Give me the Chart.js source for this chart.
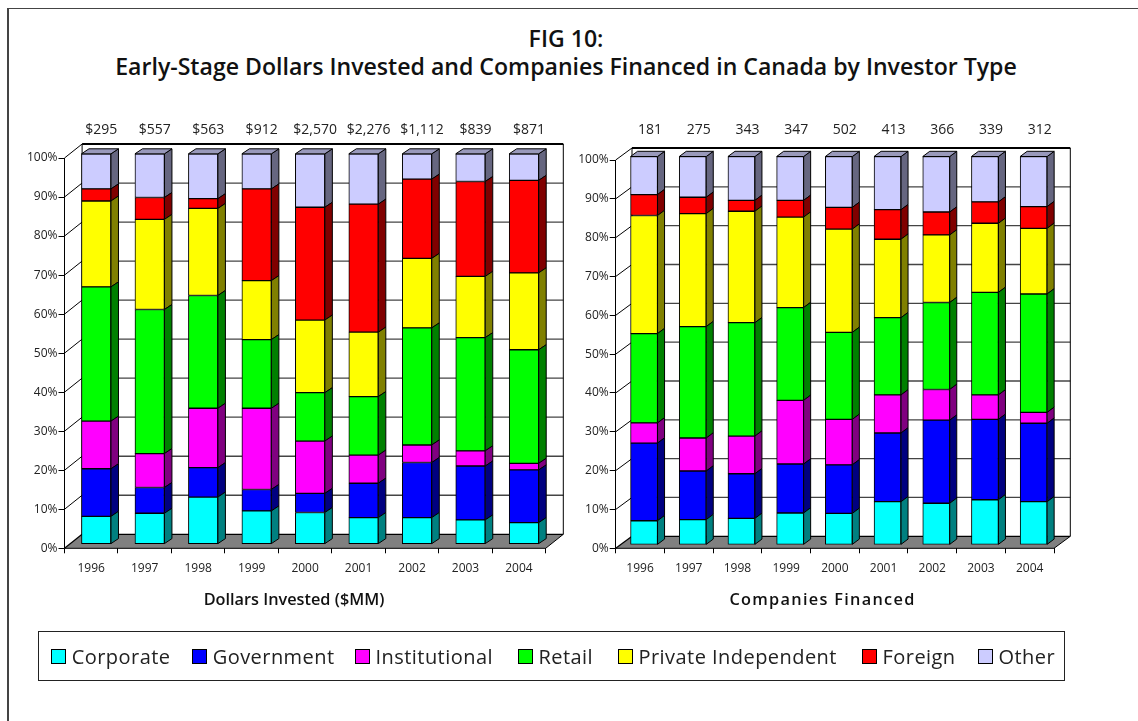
<!DOCTYPE html>
<html><head><meta charset="utf-8">
<script src="https://cdn.jsdelivr.net/npm/chart.js@4"></script>
<style>
html,body{margin:0;padding:0;background:#fff;width:1138px;height:721px;overflow:hidden;font-family:"Open Sans",sans-serif;color:#222}
#frameL{position:absolute;left:7px;top:7.5px;width:1.5px;height:714px;background:#444}
#frameT{position:absolute;left:7px;top:7.5px;width:1131px;height:1.3px;background:#444}
#title{position:absolute;left:0;top:24px;width:1132px;text-align:center;font-weight:600;font-size:23.1px;line-height:28px;color:#111}
canvas{position:absolute;top:0}
#c1{left:0}#c2{left:570px}
#legend{position:absolute;left:37.5px;top:631px;width:1027px;height:50px;box-sizing:border-box;border:1.3px solid #222;font-size:20px;letter-spacing:.45px;color:#222}
#legend .it{position:absolute;top:0;height:48px;display:flex;align-items:center;white-space:nowrap}
#legend i{display:inline-block;box-sizing:border-box;width:15px;height:15px;border:1px solid #000;margin-right:6px}
</style></head><body>
<div id="frameL"></div><div id="frameT"></div>
<div id="title">FIG 10:<br>Early-Stage Dollars Invested and Companies Financed in Canada by Investor Type</div>
<canvas id="c1" width="570" height="721"></canvas>
<canvas id="c2" width="568" height="721"></canvas>
<div id="legend"></div>
<script>
const years=["1996","1997","1998","1999","2000","2001","2002","2003","2004"];
const seriesNames=["Corporate","Government","Institutional","Retail","Private Independent","Foreign","Other"];
const faceColors=["#00FFFF","#0000FF","#FF00FF","#00FF00","#FFFF00","#FF0000","#CCCCFF"];
const sideColors=["#008080","#000080","#800080","#008000","#808000","#800000","#666680"];
const topColor="#9999BB";
const yTicks=[0,10,20,30,40,50,60,70,80,90,100];
const dollarTotals=["$295","$557","$563","$912","$2,570","$2,276","$1,112","$839","$871"];
const companyTotals=["181","275","343","347","502","413","366","339","312"];

const dollarCorporate=[7.1,7.9,12.05,8.5,8.1,6.8,6.8,6.2,5.5];
const dollarGovernment=[12.2,6.6,7.55,5.5,4.9,8.8,14.1,13.8,13.5];
const dollarInstitutional=[12.2,8.7,15.2,20.8,13.4,7.2,4.5,3.9,1.7];
const dollarRetail=[34.4,36.9,28.9,17.6,12.4,15.0,30.0,29.0,29.1];
const dollarPrivate=[22.0,23.1,22.3,15.1,18.6,16.5,17.8,15.7,19.7];
const dollarForeign=[3.1,5.6,2.5,23.5,28.9,32.8,20.3,24.3,23.7];
const dollarOther=[9.0,11.2,11.5,9.0,13.7,12.9,6.5,7.1,6.8];

const companyCorporate=[6.2,6.5,6.8,8.2,8.1,11.1,10.7,11.6,11.1];
const companyGovernment=[20.0,12.5,11.5,12.6,12.5,17.7,21.4,20.7,20.2];
const companyInstitutional=[5.2,8.5,9.7,16.4,11.7,9.8,7.9,6.3,2.8];
const companyRetail=[23.0,28.7,29.2,23.9,22.4,19.9,22.4,26.4,30.5];
const companyPrivate=[30.4,29.1,28.7,23.3,26.6,20.2,17.4,17.8,16.9];
const companyForeign=[5.4,4.2,2.8,4.3,5.6,7.6,5.9,5.5,5.6];
const companyOther=[9.8,10.5,11.3,11.3,13.1,13.7,14.3,11.7,12.9];

const dollarSeries=[dollarCorporate,dollarGovernment,dollarInstitutional,dollarRetail,dollarPrivate,dollarForeign,dollarOther];
const companySeries=[companyCorporate,companyGovernment,companyInstitutional,companyRetail,companyPrivate,companyForeign,companyOther];

const FONT='"Open Sans",sans-serif';

function faux3d(g){return {
  id:'faux3d',
  beforeDatasetsDraw(chart){
    const {ctx,scales:{x,y}}=chart;
    const L=x.left,R=x.right,T=y.getPixelForValue(100),B=y.getPixelForValue(0);
    ctx.save();
    ctx.fillStyle='#808080';
    ctx.beginPath();ctx.moveTo(L,B);ctx.lineTo(L+g.dx,B-g.dy);ctx.lineTo(R+g.dx,B-g.dy);ctx.lineTo(R,B);ctx.closePath();ctx.fill();
    for(const v of yTicks){
      const py=y.getPixelForValue(v);
      ctx.strokeStyle='#000';ctx.lineWidth=v===0?1.2:1;
      ctx.beginPath();ctx.moveTo(L,py);ctx.lineTo(L+g.dx,py-g.dy);ctx.stroke();
      ctx.strokeStyle=(v===100||v===0)?'#000':'#444';ctx.lineWidth=v===100?1.8:1.3;
      ctx.beginPath();ctx.moveTo(L+g.dx,py-g.dy);ctx.lineTo(R+g.dx,py-g.dy);ctx.stroke();
    }
    ctx.strokeStyle='#000';ctx.lineWidth=1;
    ctx.beginPath();ctx.moveTo(L+g.dx,T-g.dy);ctx.lineTo(L+g.dx,B-g.dy);ctx.stroke();
    ctx.beginPath();ctx.moveTo(R+g.dx,T-g.dy);ctx.lineTo(R+g.dx,B-g.dy);ctx.lineTo(R,B);ctx.lineTo(L,B);ctx.stroke();
    ctx.restore();
    ctx.save();ctx.translate(g.sx,-g.sy);
  },
  afterDatasetDraw(chart,args){
    const {ctx}=chart;const meta=chart.getDatasetMeta(args.index);const i=args.index;
    ctx.save();ctx.strokeStyle='#000';ctx.lineWidth=1;
    meta.data.forEach(bar=>{
      const p=bar.getProps(['x','y','base','width'],true);
      const r=p.x+p.width/2,l=p.x-p.width/2;
      ctx.fillStyle=sideColors[i];
      ctx.beginPath();ctx.moveTo(r,p.base);ctx.lineTo(r+g.bx,p.base-g.by);ctx.lineTo(r+g.bx,p.y-g.by);ctx.lineTo(r,p.y);ctx.closePath();ctx.fill();ctx.stroke();
      if(i===chart.data.datasets.length-1){
        ctx.fillStyle=topColor;
        ctx.beginPath();ctx.moveTo(l,p.y);ctx.lineTo(l+g.bx,p.y-g.by);ctx.lineTo(r+g.bx,p.y-g.by);ctx.lineTo(r,p.y);ctx.closePath();ctx.fill();ctx.stroke();
      }
    });
    ctx.restore();
  },
  afterDatasetsDraw(chart){chart.ctx.restore();},
  afterDraw(chart){
    const {ctx}=chart;ctx.save();
    ctx.font='600 16.3px '+FONT;ctx.fillStyle='#111';ctx.textAlign='center';ctx.textBaseline='middle';
    ctx.letterSpacing=g.titleLS+'px';
    ctx.fillText(g.axisTitle,g.titleX,g.titleY);ctx.restore();
  }
};}

function makeChart(id,series,totals,g){
  new Chart(document.getElementById(id),{
    type:'bar',
    data:{labels:years,datasets:series.map((vals,i)=>({
      label:seriesNames[i],data:vals,backgroundColor:faceColors[i],borderColor:'#000',borderWidth:1,borderSkipped:false,barThickness:g.barW,stack:'s'
    }))},
    plugins:[faux3d(g)],
    options:{
      responsive:false,animation:false,
      layout:{padding:{left:0,top:0,right:g.padR,bottom:721-548.3-40}},
      plugins:{legend:{display:false},tooltip:{enabled:false},title:{display:false}},
      scales:{
        x:{type:'category',stacked:true,position:'bottom',offset:true,
          grid:{display:true,drawOnChartArea:false,drawTicks:true,tickLength:5,color:'#000',offset:true},
          border:{display:false},
          ticks:{color:'#222',font:{family:FONT,size:12},padding:8,maxRotation:0,autoSkip:false},
          afterFit(s){s.height=40;}},
        xTop:{type:'category',position:'top',labels:totals,offset:true,
          grid:{display:false,drawTicks:false},border:{display:false},
          ticks:{color:'#222',font:{family:FONT,size:14},padding:g.topPad,labelOffset:g.topShift,maxRotation:0,autoSkip:false},
          afterFit(s){s.height=g.topH;}},
        y:{stacked:true,min:0,max:100,position:'left',
          afterBuildTicks(s){s.ticks=yTicks.map(v=>({value:v}));},
          grid:{display:true,drawOnChartArea:false,drawTicks:true,tickLength:6,color:'#000'},
          border:{display:true,color:'#000',width:1},
          ticks:{color:'#222',font:{family:FONT,size:12},padding:1,callback:v=>v+'%'},
          afterFit(s){s.width=g.yW;}}
      }
    }
  });
}
makeChart('c1',dollarSeries,dollarTotals,{dx:17.6,dy:14,sx:5,sy:4.2,bx:7.5,by:5,barW:29.5,yW:64.5,padR:24.3,topH:158,topPad:19.5,topShift:10,axisTitle:'Dollars Invested ($MM)',titleX:294,titleY:600,titleLS:0});
makeChart('c2',companySeries,companyTotals,{dx:16.3,dy:12,sx:4,sy:3.5,bx:7,by:5.2,barW:27,yW:45.7,padR:84,topH:160,topPad:21.5,topShift:10,axisTitle:'Companies Financed',titleX:252.5,titleY:600,titleLS:1.3});

const legendX=[12.2,153.2,316,479,579,823,939];
const lg=document.getElementById('legend');
seriesNames.forEach((n,i)=>{
  const d=document.createElement('div');d.className='it';d.style.left=legendX[i]+'px';
  const b=document.createElement('i');b.style.background=faceColors[i];
  d.appendChild(b);d.appendChild(document.createTextNode(n));lg.appendChild(d);
});
</script>
</body></html>
